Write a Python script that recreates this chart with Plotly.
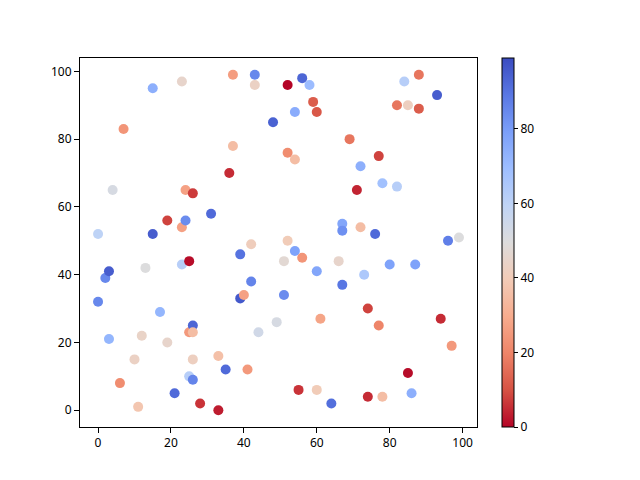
import plotly.graph_objects as go

# puntos (x, y, valor de color)
x = [0, 0, 2, 3, 3, 4, 6, 7, 10, 11, 12, 13, 15, 15, 17, 19, 19, 21, 23, 23,
     23, 24, 24, 25, 25, 25, 26, 26, 26, 26, 26, 28, 31, 33, 33, 35, 36, 37, 37, 39,
     39, 40, 41, 42, 42, 43, 43, 44, 48, 49, 51, 51, 52, 52, 52, 54, 54, 54, 55, 56,
     56, 58, 59, 60, 60, 60, 61, 64, 66, 67, 67, 67, 69, 71, 72, 72, 73, 74, 74, 76,
     77, 77, 78, 78, 80, 82, 82, 84, 85, 85, 86, 87, 88, 88, 93, 94, 96, 97, 99]
y = [52, 32, 39, 41, 21, 65, 8, 83, 15, 1, 22, 42, 52, 95, 29, 56, 20, 5, 54, 43,
     97, 65, 56, 44, 23, 10, 64, 25, 23, 15, 9, 2, 58, 16, 0, 12, 70, 99, 78, 46,
     33, 34, 12, 49, 38, 99, 96, 23, 85, 26, 44, 34, 96, 76, 50, 88, 74, 47, 6, 98,
     45, 96, 91, 88, 41, 6, 27, 2, 44, 55, 53, 37, 80, 65, 72, 54, 40, 30, 4, 52,
     75, 25, 67, 4, 43, 90, 66, 97, 90, 11, 5, 43, 99, 89, 93, 27, 50, 19, 51]
c = [60, 85, 85, 95, 72, 52, 22, 24, 43, 38, 44, 50, 95, 74, 72, 8, 45, 92, 27, 62,
     45, 27, 84, 1, 25, 62, 7, 93, 35, 42, 86, 6, 92, 36, 3, 92, 5, 26, 35, 90,
     96, 27, 25, 41, 86, 85, 43, 54, 94, 52, 47, 84, 0, 22, 40, 75, 35, 78, 6, 93,
     24, 70, 12, 11, 77, 40, 28, 91, 45, 77, 83, 89, 17, 4, 74, 35, 65, 8, 5, 92,
     8, 20, 68, 35, 78, 17, 62, 62, 42, 1, 74, 78, 17, 12, 95, 5, 87, 25, 50]

# coolwarm invertido (0 = rojo, max = azul)
coolwarm_r = [
    [0.0, "#b40426"], [0.1, "#d65244"], [0.2, "#ee8468"], [0.3, "#f7ac8e"],
    [0.4, "#f2cbb7"], [0.5, "#dddcdc"], [0.6, "#c0d4f5"], [0.7, "#9ebeff"],
    [0.8, "#7b9ff9"], [0.9, "#5977e3"], [1.0, "#3b4cc0"],
]

fig = go.Figure()
fig.add_trace(
    go.Scatter(
        x=x,
        y=y,
        mode="markers",
        marker=dict(
            color=c,
            colorscale=coolwarm_r,
            cmin=0,
            cmax=99,
            size=10,
            line=dict(width=0),
            showscale=True,
            colorbar=dict(
                x=1.063, xanchor="left", xref="paper",
                y=0.5, yanchor="middle", len=1, lenmode="fraction",
                thickness=12, thicknessmode="pixels",
                outlinewidth=1, outlinecolor="black",
                tickvals=[0, 20, 40, 60, 80],
                ticks="outside", ticklen=4, tickwidth=1, tickcolor="black",
                tickfont=dict(size=12, color="black"),
                xpad=0, ypad=0,
            ),
        ),
        showlegend=False,
    )
)

axis_style = dict(
    showgrid=False, zeroline=False, showline=True, linecolor="black",
    linewidth=1, mirror=True, ticks="outside", ticklen=5, tickwidth=1,
    tickcolor="black", tickfont=dict(size=12, color="black"),
)

# el navegador deja 8 px de margen en body, se compensa aqui
fig.update_layout(
    width=640,
    height=480,
    margin=dict(l=72, r=171, t=50, b=61),
    plot_bgcolor="white",
    paper_bgcolor="white",
    font=dict(family="Noto Sans, DejaVu Sans, sans-serif", color="black"),
)
fig.update_xaxes(range=[-4.95, 103.95], tickvals=[0, 20, 40, 60, 80, 100], **axis_style)
fig.update_yaxes(range=[-4.95, 103.95], tickvals=[0, 20, 40, 60, 80, 100], **axis_style)

fig.write_html("out.html")
